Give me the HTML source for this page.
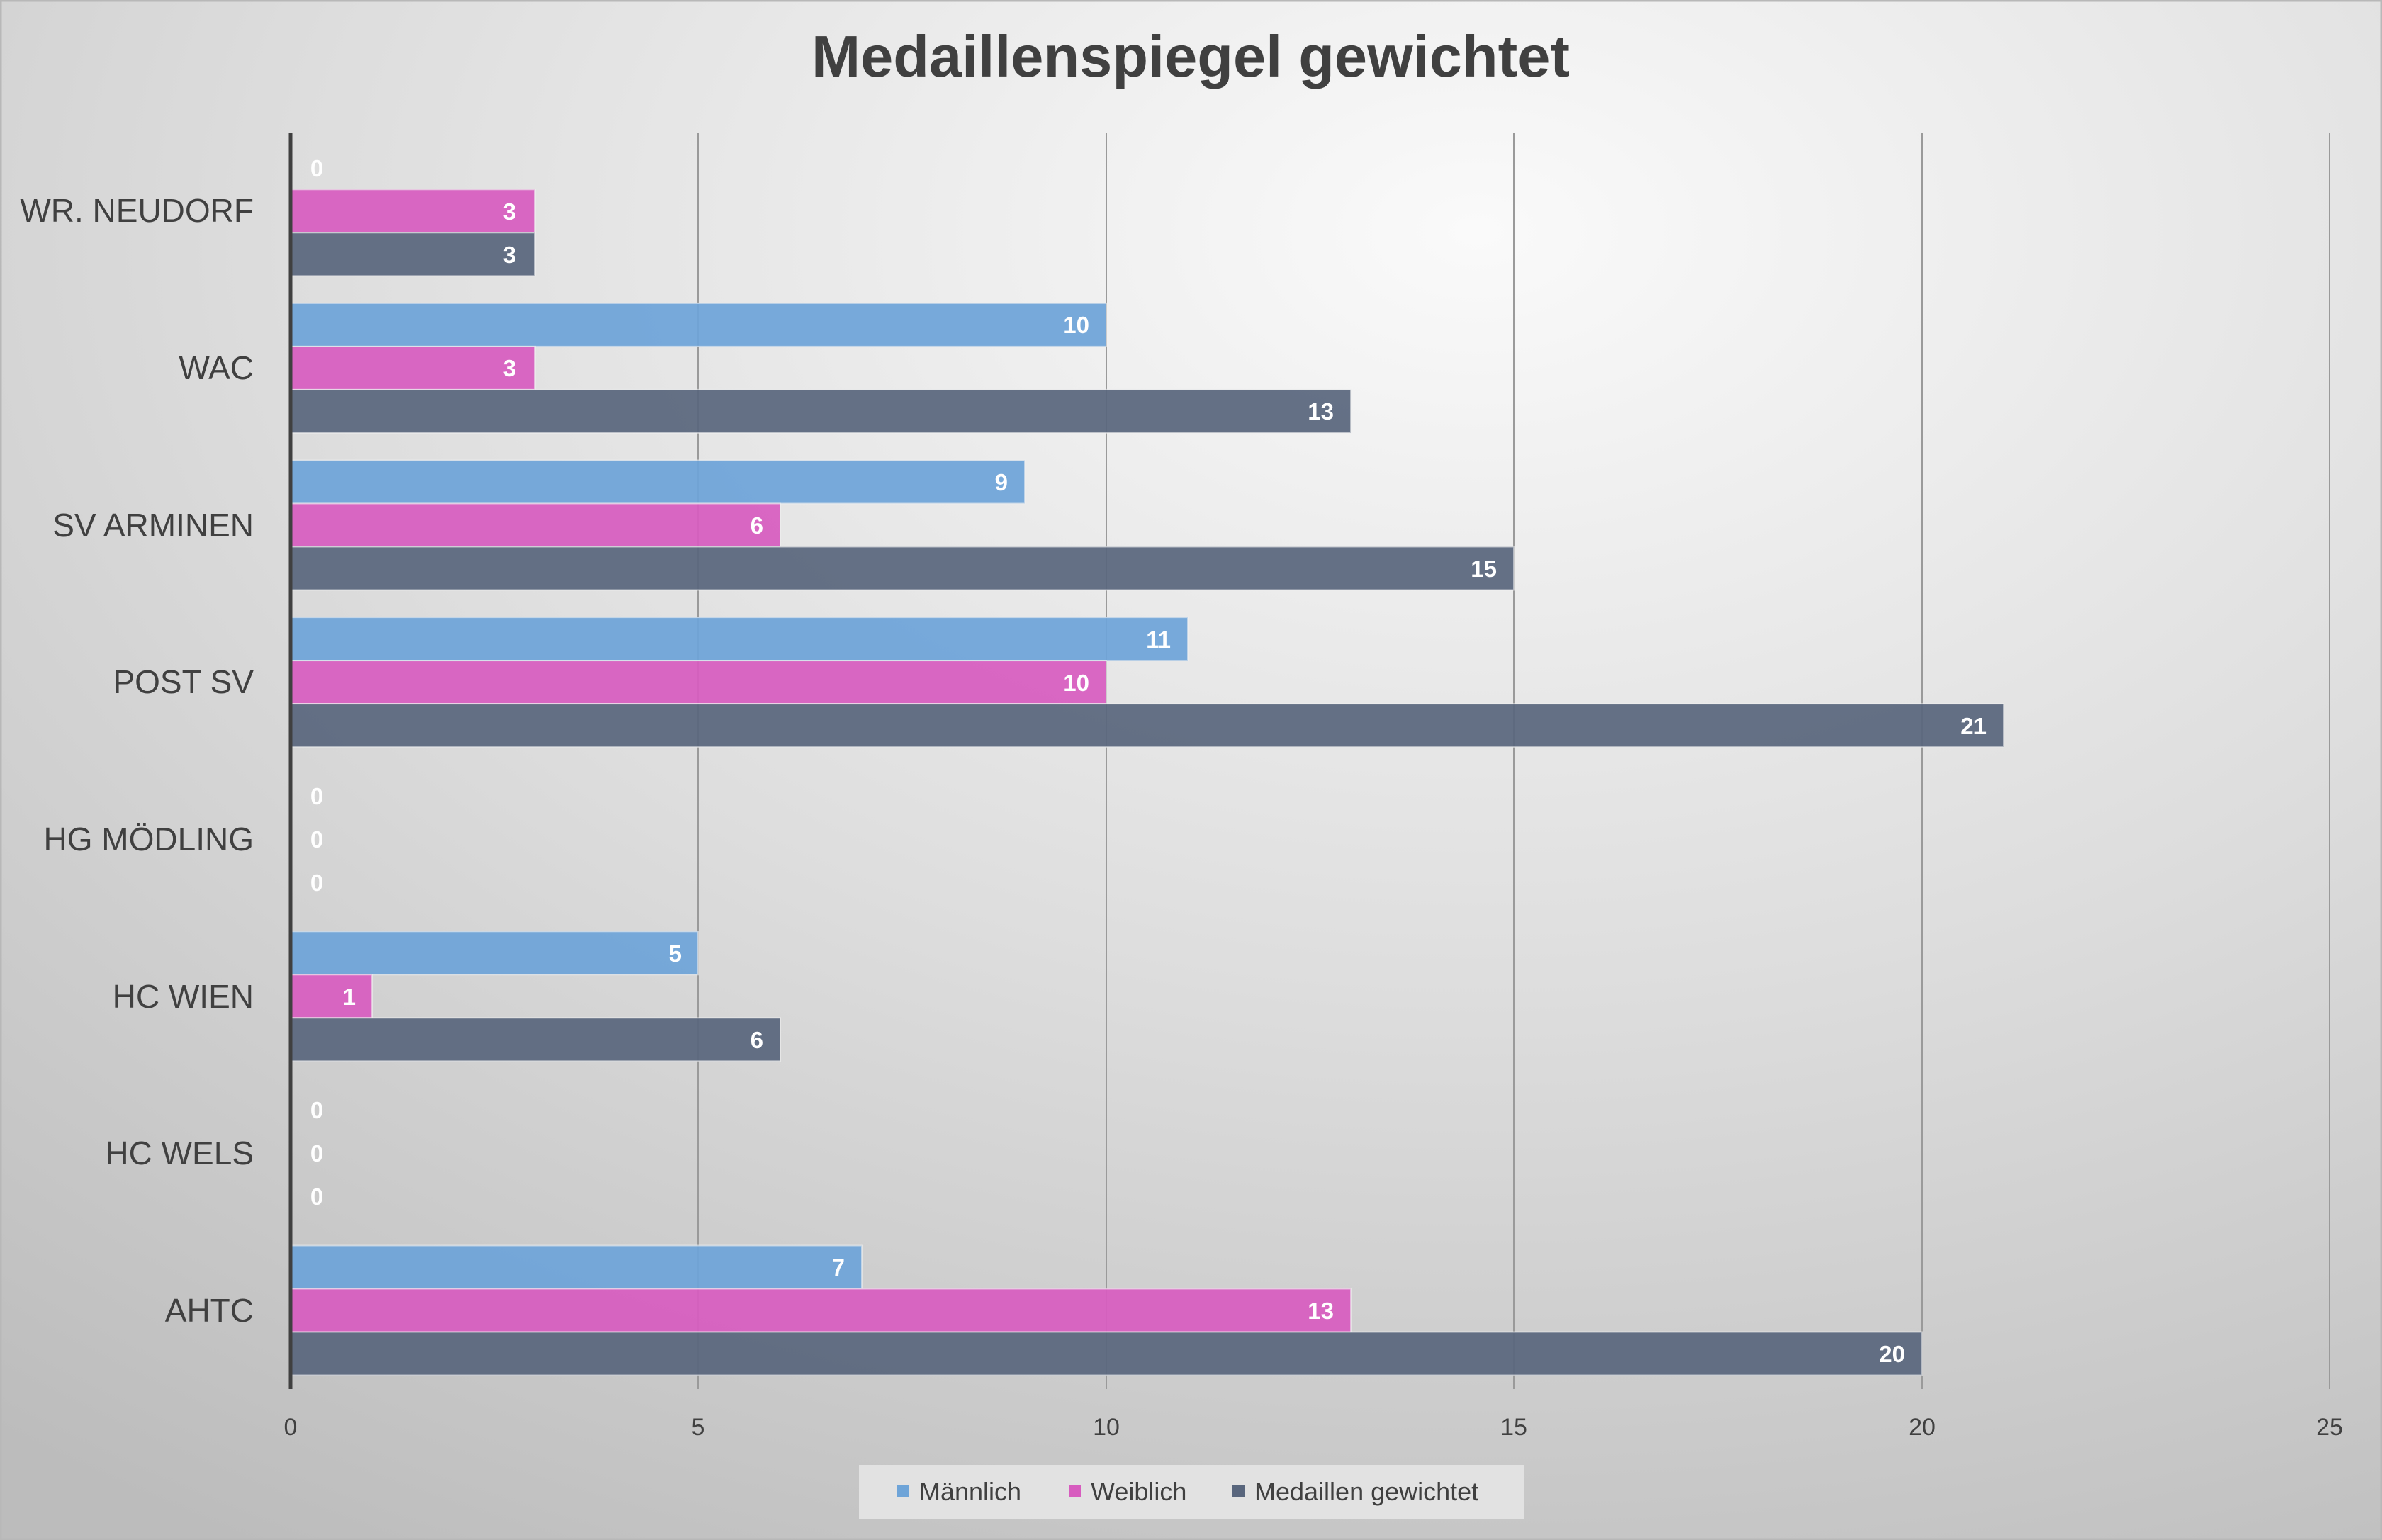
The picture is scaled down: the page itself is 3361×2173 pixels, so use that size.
<!DOCTYPE html>
<html><head><meta charset="utf-8"><style>html,body{margin:0;padding:0}svg{display:block}</style></head><body>
<svg width="3361" height="2173" viewBox="0 0 3361 2173" xmlns="http://www.w3.org/2000/svg" font-family="'Liberation Sans', 'DejaVu Sans', sans-serif">
<defs>
<radialGradient id="bg" cx="0.62" cy="0.15" r="1.0" fx="0.62" fy="0.15">
<stop offset="0" stop-color="#fafafa"/><stop offset="0.5" stop-color="#dddddd"/><stop offset="1" stop-color="#bcbcbc"/>
</radialGradient>
</defs>
<rect width="3361" height="2173" fill="url(#bg)"/>
<rect x="1" y="1" width="3359" height="2171" fill="none" stroke="#b8b8b8" stroke-width="3"/>
<text x="1680" y="108" text-anchor="middle" font-size="83" font-weight="bold" fill="#404040">Medaillenspiegel gewichtet</text>
<g stroke="#9a9a9a" stroke-width="2">
<line x1="985" y1="187" x2="985" y2="1960"/><line x1="1561" y1="187" x2="1561" y2="1960"/>
<line x1="2136" y1="187" x2="2136" y2="1960"/><line x1="2712" y1="187" x2="2712" y2="1960"/>
<line x1="3287" y1="187" x2="3287" y2="1960"/>
</g>
<g fill-opacity="0.93" stroke="#f0f0f0" stroke-opacity="0.6" stroke-width="2">
<rect x="410" y="267.3" width="345" height="61" fill="#d75cbf"/>
<rect x="410" y="328.3" width="345" height="61" fill="#59667d"/>
<rect x="410" y="427.9" width="1151" height="61" fill="#6ea4d8"/>
<rect x="410" y="488.9" width="345" height="61" fill="#d75cbf"/>
<rect x="410" y="549.9" width="1496" height="61" fill="#59667d"/>
<rect x="410" y="649.5" width="1036" height="61" fill="#6ea4d8"/>
<rect x="410" y="710.5" width="691" height="61" fill="#d75cbf"/>
<rect x="410" y="771.5" width="1726" height="61" fill="#59667d"/>
<rect x="410" y="871.1" width="1266" height="61" fill="#6ea4d8"/>
<rect x="410" y="932.1" width="1151" height="61" fill="#d75cbf"/>
<rect x="410" y="993.1" width="2417" height="61" fill="#59667d"/>
<rect x="410" y="1314.3" width="575" height="61" fill="#6ea4d8"/>
<rect x="410" y="1375.3" width="115" height="61" fill="#d75cbf"/>
<rect x="410" y="1436.3" width="691" height="61" fill="#59667d"/>
<rect x="410" y="1757.5" width="806" height="61" fill="#6ea4d8"/>
<rect x="410" y="1818.5" width="1496" height="61" fill="#d75cbf"/>
<rect x="410" y="1879.5" width="2302" height="61" fill="#59667d"/>
</g>
<line x1="410" y1="187" x2="410" y2="1960" stroke="#404040" stroke-width="5"/>
<g font-size="33" font-weight="bold" fill="#ffffff" text-anchor="end">
<text x="728" y="310">3</text><text x="728" y="371">3</text>
<text x="1537" y="470">10</text><text x="728" y="531">3</text><text x="1882" y="592">13</text>
<text x="1422" y="692">9</text><text x="1077" y="753">6</text><text x="2112" y="814">15</text>
<text x="1652" y="914">11</text><text x="1537" y="975">10</text><text x="2803" y="1036">21</text>
<text x="962" y="1357">5</text><text x="502" y="1418">1</text><text x="1077" y="1479">6</text>
<text x="1192" y="1800">7</text><text x="1882" y="1861">13</text><text x="2688" y="1922">20</text>
</g>
<g font-size="33" font-weight="bold" fill="#ffffff" text-anchor="middle">
<text x="447" y="249">0</text>
<text x="447" y="1135">0</text><text x="447" y="1196">0</text><text x="447" y="1257">0</text>
<text x="447" y="1578">0</text><text x="447" y="1639">0</text><text x="447" y="1700">0</text>
</g>
<g font-size="46" fill="#404040" text-anchor="end">
<text x="358" y="313">WR. NEUDORF</text>
<text x="358" y="535">WAC</text>
<text x="358" y="757">SV ARMINEN</text>
<text x="358" y="978">POST SV</text>
<text x="358" y="1200">HG MÖDLING</text>
<text x="358" y="1422">HC WIEN</text>
<text x="358" y="1643">HC WELS</text>
<text x="358" y="1865">AHTC</text>
</g>
<g font-size="34" fill="#404040" text-anchor="middle">
<text x="410" y="2025">0</text><text x="985" y="2025">5</text><text x="1561" y="2025">10</text>
<text x="2136" y="2025">15</text><text x="2712" y="2025">20</text><text x="3287" y="2025">25</text>
</g>
<rect x="1212" y="2067" width="938" height="76" fill="#e2e2e2"/>
<g font-size="36" fill="#404040">
<rect x="1266" y="2095" width="17" height="17" fill="#6ea4d8"/><text x="1297" y="2117">Männlich</text>
<rect x="1508" y="2095" width="17" height="17" fill="#d75cbf"/><text x="1539" y="2117">Weiblich</text>
<rect x="1739" y="2095" width="17" height="17" fill="#59667d"/><text x="1770" y="2117">Medaillen gewichtet</text>
</g>
</svg>
</body></html>
